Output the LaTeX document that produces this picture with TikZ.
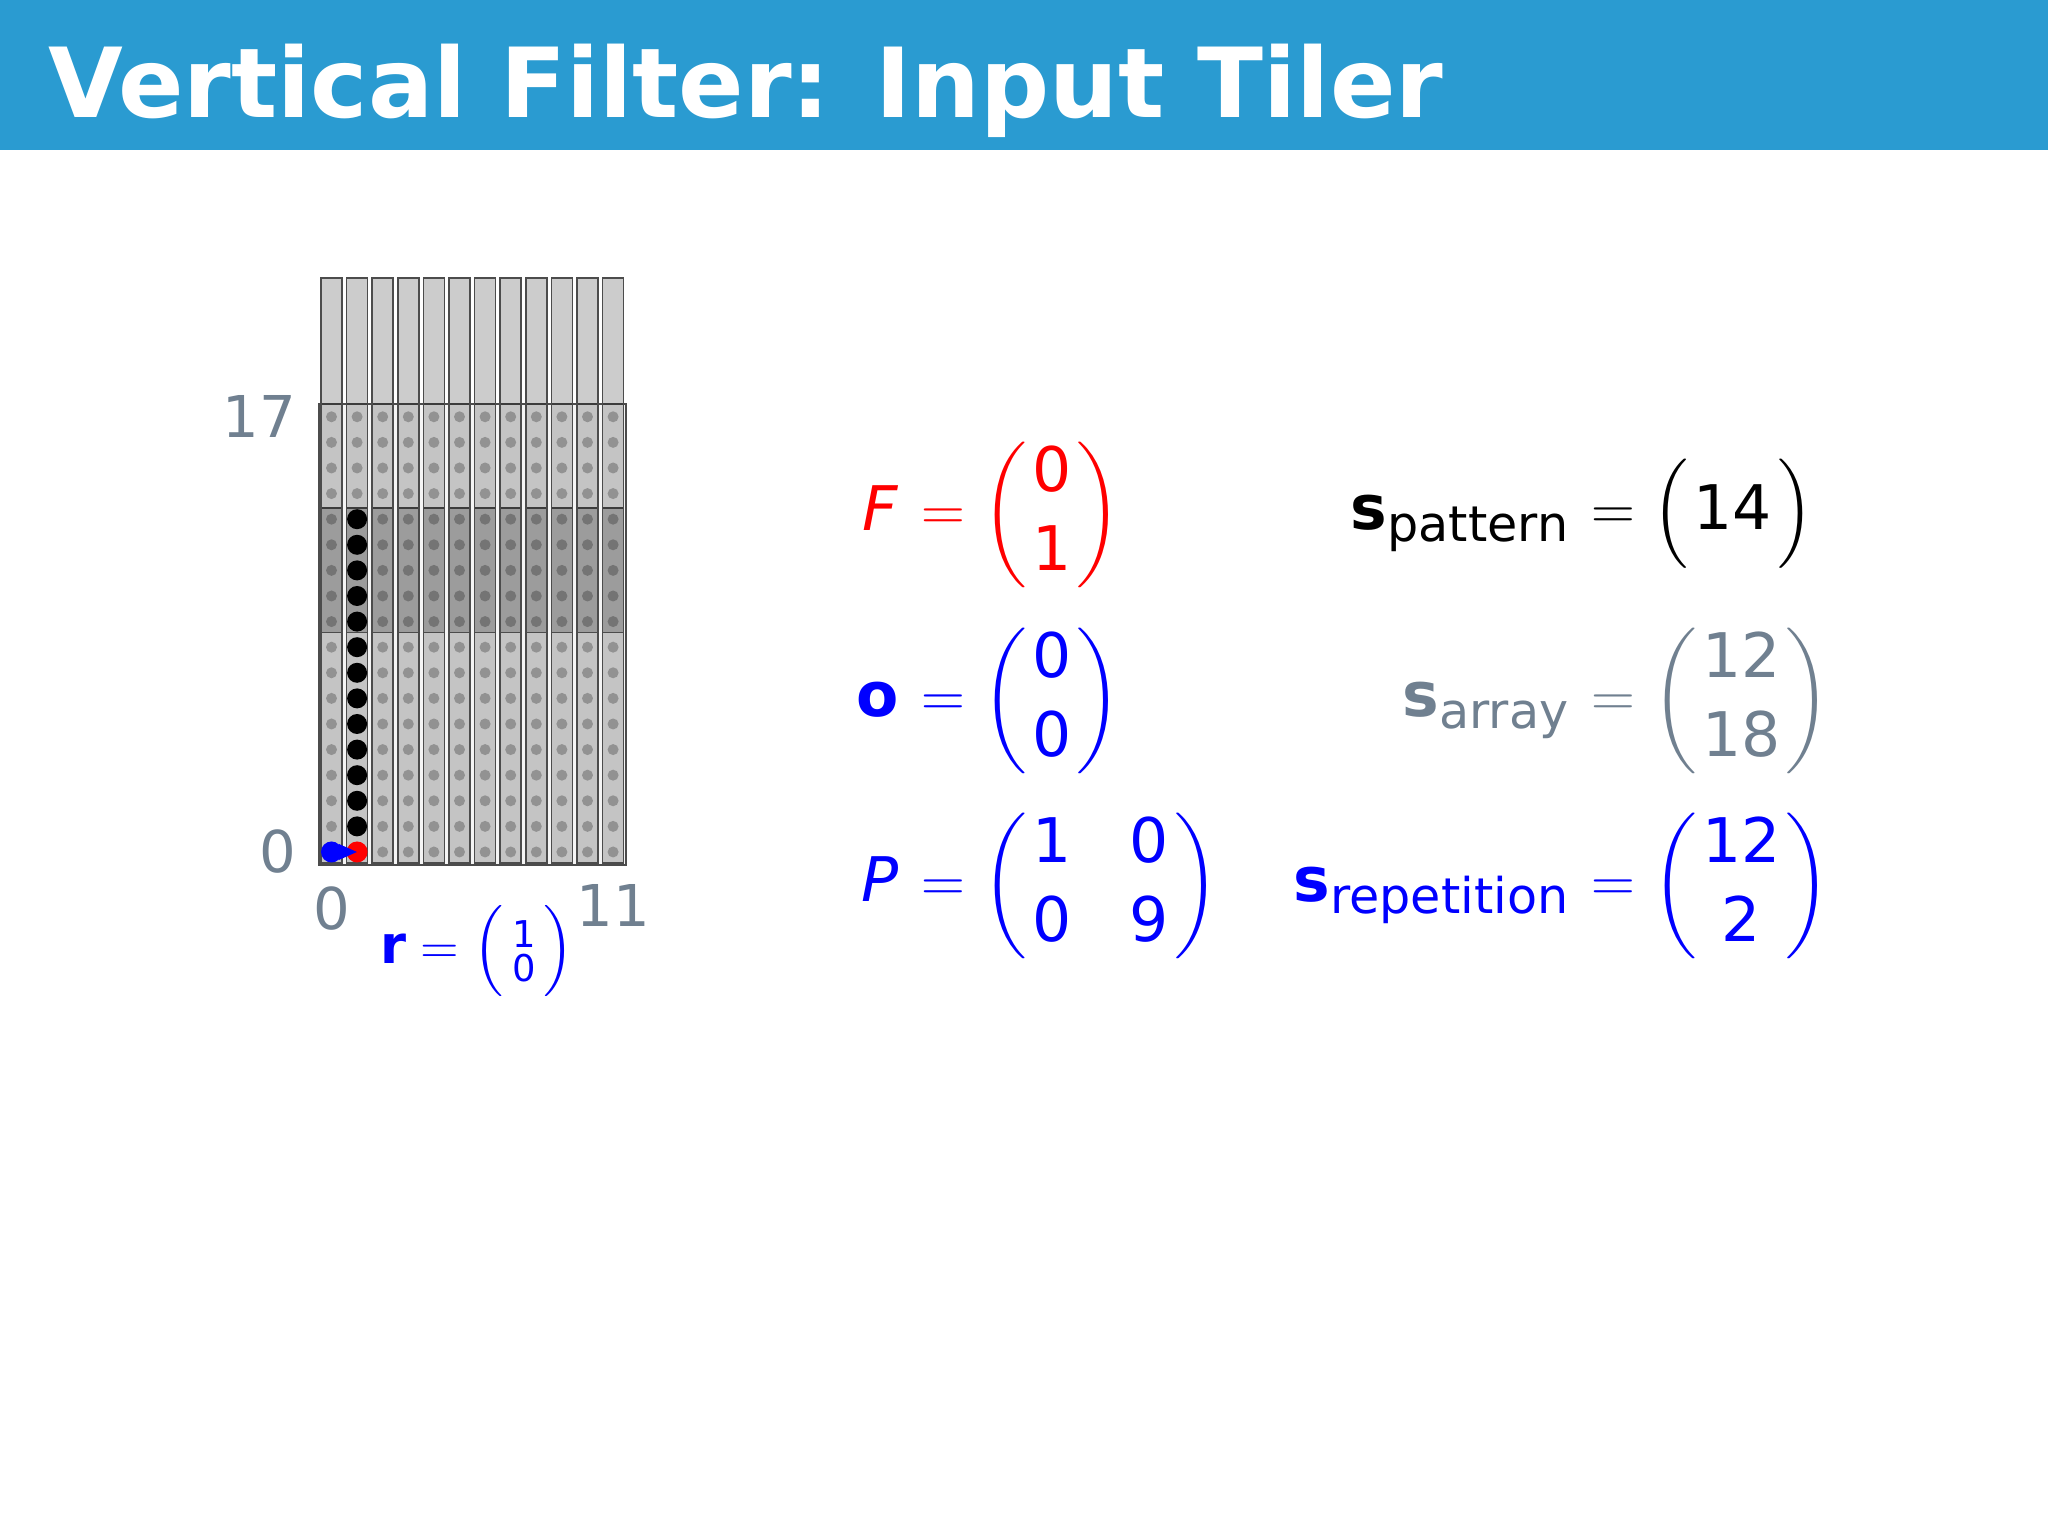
\documentclass[tikz,border=0pt]{standalone}
\usepackage{amsmath}
\usepackage{fontspec}
\setmainfont{DejaVu Sans}
\usetikzlibrary{arrows.meta,positioning}

\definecolor{barblue}{RGB}{42,155,209}
\definecolor{slate}{RGB}{112,128,144}
\newcommand{\tx}[1]{\text{#1}}
\newcommand{\subtx}[1]{\raisebox{-0.2em}{\fontsize{14}{16}\selectfont #1}}
\newcommand{\tall}[1]{\rule[\dimexpr 0.25em-#1/2\relax]{0pt}{#1}}
\newcommand{\vmat}[2]{\left(\tall{#1}\hspace{1.5pt}\begin{matrix}#2\end{matrix}\hspace{1.5pt}\right)}

\begin{document}
\begin{tikzpicture}[
    tile/.style={draw=black!70, line width=0.5pt, fill=black, fill opacity=0.2},
    griddot/.style={circle, fill=black, opacity=0.25, inner sep=0pt, minimum size=0.11cm},
    bigdot/.style={circle, inner sep=0pt, minimum size=0.2cm},
    axislab/.style={text=slate, inner sep=0pt, font=\fontsize{16.4}{19}\selectfont},
    eqn/.style={anchor=west, inner sep=0pt, font=\fontsize{17.5}{22.5}\selectfont},
    lhs/.style={anchor=base east, inner sep=0pt, xshift=-0.22cm, font=\fontsize{17.5}{22.5}\selectfont}
  ]
    \useasboundingbox (0,0) rectangle (20.48,15.36);
    \fill[white] (0,0) rectangle (20.48,15.36);
    \fill[barblue] (0,13.86) rectangle (20.48,15.36);
    \node[anchor=base west, inner sep=0pt, text=white, font=\fontsize{27.5}{33}\selectfont\bfseries] (title) at (0.48,14.18) {Vertical Filter: Input Tiler};

    \begin{scope}[shift={(3.315,6.84)}, x=0.256cm, y=0.256cm]
      \fill[black, opacity=0.04] (-0.5,-0.5) rectangle (11.5,17.5);
      \draw[black!70, line width=0.5pt] (-0.5,-0.5) rectangle (11.5,17.5);
      \foreach \i in {0,...,11} {
        \filldraw[tile] (\i-0.41,-0.43) rectangle (\i+0.41,13.43);
        \filldraw[tile] (\i-0.41,8.57) rectangle (\i+0.41,22.43);
      }
      \foreach \i in {0,...,11}
        \foreach \j in {0,...,17}
          \node[griddot] (g\i-\j) at (\i,\j) {};

      \foreach \j in {1,...,13}
        \node[bigdot, fill=black] (p\j) at (1,\j) {};
      \node[bigdot, fill=red, minimum size=0.21cm] (p0) at (1,0) {};
      \node[bigdot, fill=blue, minimum size=0.21cm] (orig) at (0,0) {};
      \draw[blue, line width=0.8pt, -{Triangle[length=1.8mm, width=1.5mm]}] (orig) -- (p0.center);

      \node[axislab, anchor=east] (ylo) at (-1.35,0) {0};
      \node[axislab, anchor=east] (yhi) at (-1.35,17) {17};
      \node[axislab] (xlo) at (0,-2.19) {0};
      \node[axislab] (xhi) at (11,-2.1) {11};
    \end{scope}

    \node[anchor=west, inner sep=0pt, text=blue, font=\fontsize{15}{18}\selectfont] (rvec) at (3.80,5.85) {$\textbf{r}=\left(\tall{0.74cm}\begin{smallmatrix}\tx{1}\\\tx{0}\end{smallmatrix}\right)$};

    \node[eqn, red] (feq) at (9.21,10.21) {$=\vmat{1.59cm}{\tx{0}\\\tx{1}}$};
    \node[lhs, red] (flhs) at (feq.base west) {\textit{F}};
    \node[eqn, blue] (oeq) at (9.21,8.35) {$=\vmat{1.59cm}{\tx{0}\\\tx{0}}$};
    \node[lhs, blue] (olhs) at (oeq.base west) {\textbf{o}};
    \node[eqn, blue] (peq) at (9.21,6.50) {\setlength{\arraycolsep}{8.3pt}$=\vmat{1.59cm}{\tx{1}&\tx{0}\\\tx{0}&\tx{9}}$};
    \node[lhs, blue] (plhs) at (peq.base west) {\textit{P}};

    \node[eqn] (pateq) at (15.91,10.22) {$=\vmat{0.95cm}{\tx{14}}$};
    \node[lhs] (patlhs) at (pateq.base west) {\textbf{s}\subtx{pattern}};
    \node[eqn, slate] (arreq) at (15.91,8.35) {$=\vmat{1.59cm}{\tx{12}\\\tx{18}}$};
    \node[lhs, slate] (arrlhs) at (arreq.base west) {\textbf{s}\subtx{array}};
    \node[eqn, blue] (repeq) at (15.91,6.50) {$=\vmat{1.59cm}{\tx{12}\\\tx{2}}$};
    \node[lhs, blue] (replhs) at (repeq.base west) {\textbf{s}\subtx{repetition}};
  \end{tikzpicture}
\end{document}
